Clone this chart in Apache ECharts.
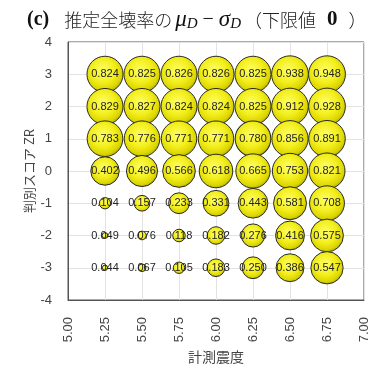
<!DOCTYPE html>
<html>
<head>
<meta charset="utf-8">
<script src="https://cdn.jsdelivr.net/npm/echarts@6/dist/echarts.min.js"></script>
<style>
  html, body { margin: 0; padding: 0; background: #fff; }
  #chart { width: 376px; height: 365px; }
</style>
</head>
<body>
<div id="chart"></div>
<script>
// Seismic intensity (x) for each column of bubbles
const intensities = [5.25, 5.50, 5.75, 6.00, 6.25, 6.50, 6.75];
// Discriminant score ZR (y) for each row
const scores = [3, 2, 1, 0, -1, -2, -3];
// Estimated total-collapse rate (mu_D - sigma_D, floored at 0), one array per score row
const rateZ3 = [0.824, 0.825, 0.826, 0.826, 0.825, 0.938, 0.948];
const rateZ2 = [0.829, 0.827, 0.824, 0.824, 0.825, 0.912, 0.928];
const rateZ1 = [0.783, 0.776, 0.771, 0.771, 0.780, 0.856, 0.891];
const rateZ0 = [0.402, 0.496, 0.566, 0.618, 0.665, 0.753, 0.821];
const rateZm1 = [0.104, 0.157, 0.233, 0.331, 0.443, 0.581, 0.708];
const rateZm2 = [0.049, 0.076, 0.118, 0.182, 0.276, 0.416, 0.575];
const rateZm3 = [0.044, 0.067, 0.105, 0.183, 0.250, 0.386, 0.547];
// Axis tick values
const xTicks = [5.00, 5.25, 5.50, 5.75, 6.00, 6.25, 6.50, 6.75, 7.00];
const yTicks = [-4, -3, -2, -1, 0, 1, 2, 3, 4];

const rows = [rateZ3, rateZ2, rateZ1, rateZ0, rateZm1, rateZm2, rateZm3];
const points = [];
rows.forEach((row, i) => {
  row.forEach((v, j) => points.push([intensities[j], scores[i], v]));
});

const chart = echarts.init(document.getElementById('chart'));
const axisText = { color: '#444', fontSize: 13, fontFamily: 'Liberation Sans, Arial, sans-serif' };
const serif = 'Liberation Serif, DejaVu Serif, serif';
const line = { lineHeight: 24, verticalAlign: 'middle', color: '#111', fontWeight: 'normal' };

chart.setOption({
  animation: false,
  title: {
    left: 27,
    top: 8,
    padding: 0,
    text: '{c|(c)}{gap| }{jp|推定全壊率の}{sp| }{m|μ}{s|D}{op| − }{m|σ}{s|D}{sp| }{jp|（下限値}{sp2| }{b|0}{sp2| }{jp|）}',
    textStyle: {
      fontWeight: 'normal',
      rich: {
        c: Object.assign({}, line, { fontFamily: serif, fontWeight: 'bold', fontSize: 20 }),
        gap: Object.assign({}, line, { fontSize: 18, width: 15 }),
        sp: Object.assign({}, line, { fontSize: 12, width: 3 }),
        sp2: Object.assign({}, line, { fontSize: 12, width: 11 }),
        jp: Object.assign({}, line, { fontFamily: 'Noto Sans CJK JP, sans-serif', fontSize: 18, color: '#222', fontWeight: 300 }),
        m: Object.assign({}, line, { fontFamily: serif, fontStyle: 'italic', fontSize: 23 }),
        s: Object.assign({}, line, { fontFamily: serif, fontStyle: 'italic', fontSize: 15, verticalAlign: 'bottom', padding: [9, 0, 0, 0] }),
        op: Object.assign({}, line, { fontFamily: serif, fontSize: 20 }),
        b: Object.assign({}, line, { fontFamily: serif, fontWeight: 'bold', fontSize: 21 })
      }
    }
  },
  grid: {
    left: 68, right: 12, top: 42, bottom: 65,
    outerBoundsMode: 'none',
    containLabel: false,
    show: true, borderColor: '#555', borderWidth: 1, backgroundColor: '#fff'
  },
  xAxis: {
    type: 'value',
    min: xTicks[0], max: xTicks[xTicks.length - 1], interval: 0.25,
    name: '計測震度',
    nameLocation: 'middle',
    nameGap: 50,
    nameMoveOverlap: false,
    nameTextStyle: { color: '#444', fontSize: 14, fontFamily: 'Noto Sans CJK JP, sans-serif' },
    axisLine: { show: true, onZero: false, lineStyle: { color: '#555' } },
    axisTick: { show: false },
    axisLabel: Object.assign({ rotate: 90, margin: 17, formatter: v => v.toFixed(2) }, axisText),
    splitLine: { show: true, lineStyle: { color: '#e3e3e3', width: 1 } }
  },
  yAxis: {
    type: 'value',
    min: yTicks[0], max: yTicks[yTicks.length - 1], interval: 1,
    name: '判別スコア ZR',
    nameLocation: 'middle',
    nameGap: 32,
    nameMoveOverlap: false,
    nameTextStyle: { color: '#444', fontSize: 13, fontFamily: 'Noto Sans CJK JP, sans-serif' },
    axisLine: { show: true, onZero: false, lineStyle: { color: '#555' } },
    axisTick: { show: false },
    axisLabel: Object.assign({ margin: 16 }, axisText),
    splitLine: { show: true, lineStyle: { color: '#e3e3e3', width: 1 } }
  },
  series: [{
    type: 'scatter',
    data: points,
    symbol: 'circle',
    symbolSize: d => Math.max(3, 38.5 * (1 - Math.exp(-d[2] / 0.3))),
    itemStyle: {
      color: {
        type: 'radial', x: 0.45, y: 0.4, r: 0.6,
        colorStops: [
          { offset: 0, color: '#ffff66' },
          { offset: 0.55, color: '#f2ee1c' },
          { offset: 0.85, color: '#dcd600' },
          { offset: 1, color: '#b8b000' }
        ]
      },
      borderColor: '#2a2a2a',
      borderWidth: 1,
      opacity: 1
    },
    label: {
      show: true,
      position: 'inside',
      formatter: p => p.value[2].toFixed(3),
      color: '#222',
      fontSize: 11,
      fontFamily: 'Liberation Sans, Arial, sans-serif'
    },
    emphasis: { disabled: true }
  }]
});
</script>
</body>
</html>
